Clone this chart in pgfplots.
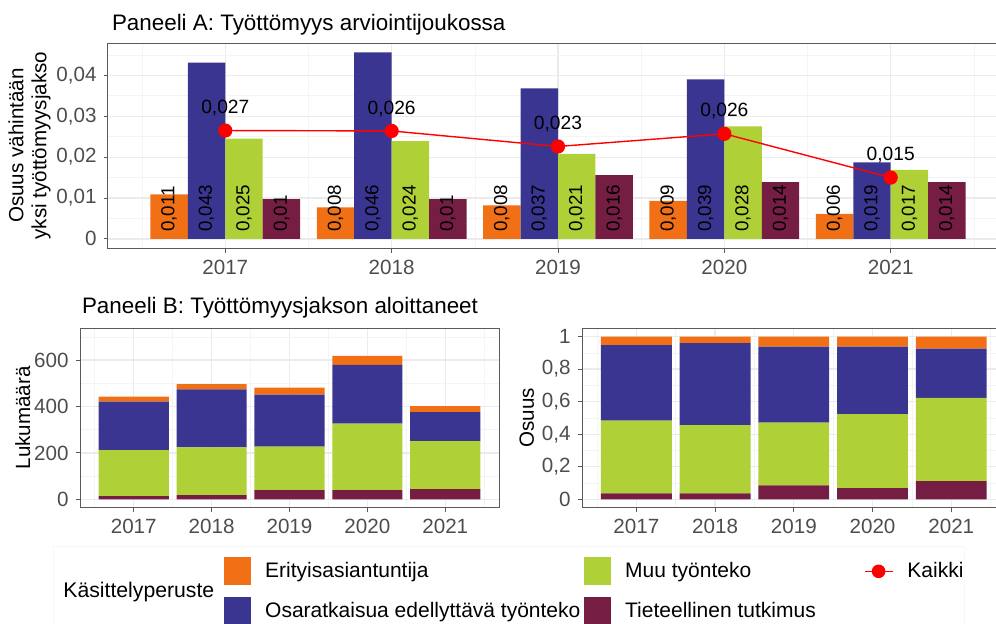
\documentclass[border=0pt]{standalone}
\usepackage{fontspec}
\setmainfont{Liberation Sans}
\usepackage{pgfplots}
\usepackage{pgfplotstable}
\pgfplotsset{compat=1.18}

\definecolor{cOr}{RGB}{241,112,22}
\definecolor{cBl}{RGB}{58,53,145}
\definecolor{cGr}{RGB}{175,209,55}
\definecolor{cMa}{RGB}{117,29,67}
\definecolor{gridmaj}{RGB}{235,235,235}
\definecolor{gridmin}{RGB}{244,244,244}
\definecolor{ticklab}{RGB}{77,77,77}
\definecolor{frame}{RGB}{90,90,90}

\pgfplotstableread{
x eri osa muu tie kaikki leri losa lmuu ltie lk
0 0.0109 0.0431 0.0245 0.0097 0.0265 0,011 0,043 0,025 0,01 0,027
1 0.0077 0.0456 0.0239 0.0097 0.0264 0,008 0,046 0,024 0,01 0,026
2 0.0082 0.0368 0.0208 0.0156 0.0226 0,008 0,037 0,021 0,016 0,023
3 0.0093 0.0390 0.0275 0.0139 0.0257 0,009 0,039 0,028 0,014 0,026
4 0.0061 0.0187 0.0169 0.0139 0.0150 0,006 0,019 0,017 0,014 0,015
}\dataA

\pgfplotstableread{
x tie muu osa eri
0 14 198 209 21
1 18 206 250 22
2 40 187 224 30
3 40 286 253 39
4 44 207 125 26
}\dataB

\pgfplotstableread{
x tie muu osa eri
0 0.037 0.446 0.465 0.052
1 0.037 0.418 0.504 0.041
2 0.086 0.385 0.467 0.062
3 0.068 0.456 0.414 0.062
4 0.112 0.511 0.303 0.074
}\dataC

\pgfplotsset{
  ggbase/.style={
    scale only axis, anchor=south west,
    axis line style={frame, line width=0.5pt},
    tick align=outside, tick pos=left,
    major tick length=2.2pt, minor tick length=0pt,
    tick style={frame, line width=0.5pt},
    grid=both,
    major grid style={gridmaj, line width=0.6pt},
    minor grid style={gridmin, line width=0.3pt},
    tick label style={font=\fontsize{10.3}{12}\selectfont, text=ticklab},
    label style={font=\fontsize{10.3}{11}\selectfont},
    xtick={0,1,2,3,4}, xticklabels={2017,2018,2019,2020,2021},
    minor xtick={-0.5,0.5,1.5,2.5,3.5,4.5},
    scaled y ticks=false,
  },
  barlabel/.style={
    draw=none, mark=none, forget plot,
    nodes near coords, point meta=explicit symbolic,
    every node near coord/.append style={rotate=90, anchor=west, font=\fontsize{9.4}{10}\selectfont, text=black},
  },
  abar/.style={ybar, bar width=0.225, draw=none},
}

\begin{document}
\begin{tikzpicture}
\path[use as bounding box] (0,0) rectangle (498pt,-311.5pt);

% Panel A
\begin{axis}[ggbase, at={(54pt,-124.15pt)}, width=450pt, height=102.65pt,
  xmin=-0.705, xmax=4.705, ymin=-0.0023, ymax=0.0479,
  ytick={0,0.01,0.02,0.03,0.04}, yticklabels={0,{0,01},{0,02},{0,03},{0,04}},
  minor ytick={0.005,0.015,0.025,0.035,0.045},
  ylabel={Osuus vähintään\\yksi työttömyysjakso},
  ylabel style={align=center, yshift=-4pt, font=\fontsize{10.3}{11.5}\selectfont}]
\addplot[abar, bar shift=-0.3375, fill=cOr] table[x=x, y=eri]{\dataA};
\addplot[abar, bar shift=-0.1125, fill=cBl] table[x=x, y=osa]{\dataA};
\addplot[abar, bar shift=0.1125, fill=cGr] table[x=x, y=muu]{\dataA};
\addplot[abar, bar shift=0.3375, fill=cMa] table[x=x, y=tie]{\dataA};
\addplot[barlabel] table[x expr=\thisrow{x}-0.3375, y expr=0, meta=leri]{\dataA};
\addplot[barlabel] table[x expr=\thisrow{x}-0.1125, y expr=0, meta=losa]{\dataA};
\addplot[barlabel] table[x expr=\thisrow{x}+0.1125, y expr=0, meta=lmuu]{\dataA};
\addplot[barlabel] table[x expr=\thisrow{x}+0.3375, y expr=0, meta=ltie]{\dataA};
\addplot[sharp plot, red, line width=0.7pt, mark=*, mark size=3.2pt, mark options={fill=red, draw=red},
  nodes near coords, point meta=explicit symbolic,
  every node near coord/.append style={anchor=south, yshift=3.5pt, font=\fontsize{9.6}{10}\selectfont, text=black}]
  table[x=x, y=kaikki, meta=lk]{\dataA};
\end{axis}

% Panel B left
\begin{axis}[ggbase, at={(40pt,-253.85pt)}, width=209.5pt, height=89.85pt,
  xmin=-0.69, xmax=4.69, ymin=-36, ymax=738,
  ytick={0,200,400,600}, yticklabels={0,200,400,600},
  minor ytick={100,300,500,700},
  ylabel={Lukumäärä}, ylabel style={yshift=-5pt}, ybar stacked, bar width=0.9]
\addplot[fill=cMa, draw=none] table[x=x, y=tie]{\dataB};
\addplot[fill=cGr, draw=none] table[x=x, y=muu]{\dataB};
\addplot[fill=cBl, draw=none] table[x=x, y=osa]{\dataB};
\addplot[fill=cOr, draw=none] table[x=x, y=eri]{\dataB};
\end{axis}

% Panel B right
\begin{axis}[ggbase, at={(291pt,-253.7pt)}, width=211.8pt, height=89.5pt,
  xmin=-0.69, xmax=4.69, ymin=-0.05, ymax=1.05,
  ytick={0,0.2,0.4,0.6,0.8,1}, yticklabels={0,{0,2},{0,4},{0,6},{0,8},1},
  minor ytick={0.1,0.3,0.5,0.7,0.9},
  ylabel={Osuus}, ylabel style={yshift=-3pt}, ybar stacked, bar width=0.9]
\addplot[fill=cMa, draw=none] table[x=x, y=tie]{\dataC};
\addplot[fill=cGr, draw=none] table[x=x, y=muu]{\dataC};
\addplot[fill=cBl, draw=none] table[x=x, y=osa]{\dataC};
\addplot[fill=cOr, draw=none] table[x=x, y=eri]{\dataC};
\end{axis}

% titles
\node[anchor=base west, inner sep=0pt, font=\fontsize{11.2}{13}\selectfont] at (55.8pt,-15pt) {Paneeli A: Työttömyys arviointijoukossa};
\node[anchor=base west, inner sep=0pt, font=\fontsize{11.2}{13}\selectfont] at (40.8pt,-156.5pt) {Paneeli B: Työttömyysjakson aloittaneet};

% legend box and title
\draw[gray!7, line width=0.5pt] (26.5pt,-273pt) rectangle (482pt,-330pt);
\node[anchor=west, inner sep=0pt, font=\fontsize{10.6}{12}\selectfont] at (31.5pt,-296pt) {Käsittelyperuste};

\begin{axis}[hide axis, scale only axis, at={(0pt,-311.5pt)}, anchor=south west,
  width=498pt, height=311.5pt, xmin=0, xmax=1, ymin=0, ymax=1,
  legend columns=3, legend cell align=left,
  legend style={at={(0.2249,0.1059)}, anchor=north west, draw=none, fill=none,
    inner sep=0pt, font=\fontsize{10.5}{12}\selectfont, row sep=6pt,
    /tikz/every odd column/.append style={column sep=5pt},
    /tikz/column 2/.append style={column sep=0pt},
    /tikz/column 4/.append style={column sep=22pt}}]
\addlegendimage{legend image code/.code={\fill[cOr] (0pt,-6.75pt) rectangle (13pt,6.75pt);}}
\addlegendentry{Erityisasiantuntija}
\addlegendimage{legend image code/.code={\fill[cGr] (0pt,-6.75pt) rectangle (13pt,6.75pt);}}
\addlegendentry{Muu työnteko}
\addlegendimage{red, line width=0.8pt, mark=*, mark size=3pt, mark options={fill=red},
  legend image code/.code={\draw[mark repeat=2, mark phase=2] plot coordinates {(0pt,0pt) (7pt,0pt) (14pt,0pt)};}}
\addlegendentry{Kaikki}
\addlegendimage{legend image code/.code={\fill[cBl] (0pt,-6.75pt) rectangle (13pt,6.75pt);}}
\addlegendentry{Osaratkaisua edellyttävä työnteko}
\addlegendimage{legend image code/.code={\fill[cMa] (0pt,-6.75pt) rectangle (13pt,6.75pt);}}
\addlegendentry{Tieteellinen tutkimus}
\addlegendimage{empty legend}
\addlegendentry{}
\end{axis}
\end{tikzpicture}
\end{document}
